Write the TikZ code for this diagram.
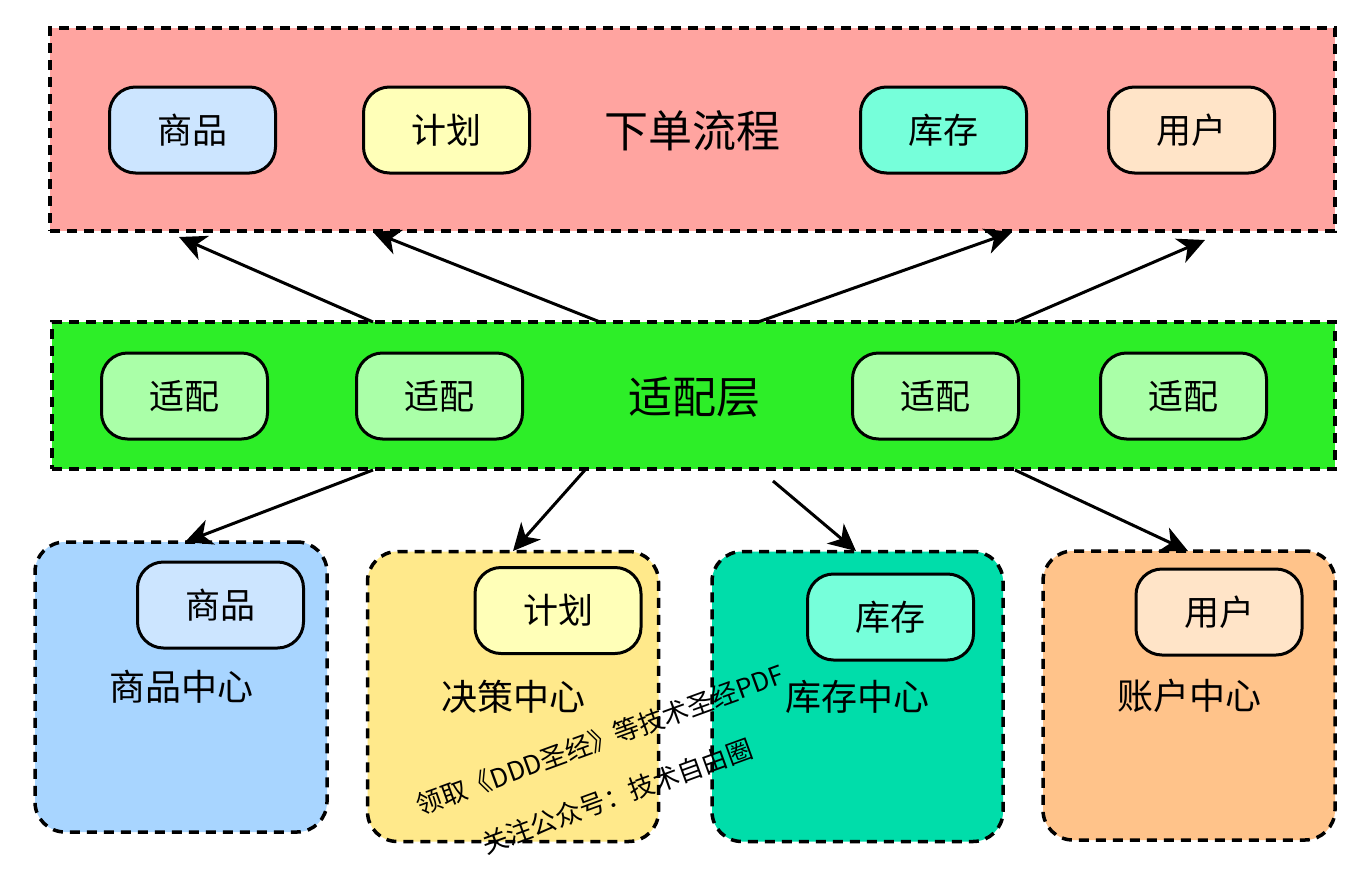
\documentclass[tikz,border=0pt]{standalone}
\usepackage{fontspec}
\setmainfont{Noto Sans CJK SC}
\usetikzlibrary{arrows.meta}
\definecolor{topfill}{HTML}{FFA4A0}
\definecolor{midfill}{HTML}{2DEE28}
\definecolor{adpfill}{HTML}{AAFFA8}
\definecolor{goodsfill}{HTML}{CCE5FF}
\definecolor{planfill}{HTML}{FFFFB8}
\definecolor{stockfill}{HTML}{76FFDA}
\definecolor{userfill}{HTML}{FFE4C8}
\definecolor{bluefill}{HTML}{A8D5FF}
\definecolor{yellowfill}{HTML}{FFE98B}
\definecolor{tealfill}{HTML}{00DDAA}
\definecolor{orangefill}{HTML}{FFC38A}
\tikzset{
  groupbox/.style={draw=black, line width=3.5pt, dash pattern=on 10pt off 7pt, rectangle, inner sep=0pt},
  centerbox/.style={groupbox, rounded corners=30pt, minimum width=291pt, minimum height=290pt,
    font=\fontsize{36}{42}\selectfont},
  tagbox/.style={draw=black, line width=3pt, rounded corners=26pt, minimum width=166pt, minimum height=86pt,
    inner sep=0pt, font=\fontsize{35}{40}\selectfont},
  titletext/.style={font=\fontsize{44}{50}\selectfont, inner sep=0pt},
  marktext/.style={font=\fontsize{26}{30}\selectfont, rotate=20, inner sep=0pt},
  arr/.style={line width=3pt, -{Stealth[length=27pt, width=26pt, inset=8pt]}}
}
\begin{document}
\begin{tikzpicture}[x=1pt,y=-1pt]
\useasboundingbox (0,0) rectangle (1371,868);

% top group
\node[groupbox, fill=topfill, minimum width=1285pt, minimum height=203pt] (order) at (692.5,129.5) {};
\node[titletext] (ordertitle) at (692.5,131) {下单流程};
\node[tagbox, fill=goodsfill] (tg) at (192.5,130) {商品};
\node[tagbox, fill=planfill] (tp) at (446.5,130) {计划};
\node[tagbox, fill=stockfill] (ts) at (943.5,130) {库存};
\node[tagbox, fill=userfill] (tu) at (1191.5,130) {用户};

% adapter group
\node[groupbox, fill=midfill, minimum width=1283pt, minimum height=147pt] (adapter) at (693.5,395.5) {};
\node[titletext] (adaptertitle) at (694.5,397) {适配层};
\node[tagbox, fill=adpfill] (m1) at (184.5,396) {适配};
\node[tagbox, fill=adpfill] (m2) at (439.5,396) {适配};
\node[tagbox, fill=adpfill] (m3) at (935.5,396) {适配};
\node[tagbox, fill=adpfill] (m4) at (1183.5,396) {适配};

% centers
\node[centerbox, fill=bluefill, minimum width=292pt] (cg) at (181,687) {商品中心};
\node[centerbox, fill=yellowfill] (cp) at (513,696.5) {决策中心};
\node[centerbox, fill=tealfill] (cs) at (857.5,696.5) {库存中心};
\node[centerbox, fill=orangefill, minimum width=292pt, minimum height=289pt] (cu) at (1189,695.5) {账户中心};

\node[tagbox, fill=goodsfill] (bg) at (220.5,605) {商品};
\node[tagbox, fill=planfill] (bp) at (558,610.5) {计划};
\node[tagbox, fill=stockfill] (bs) at (890.5,617) {库存};
\node[tagbox, fill=userfill] (bu) at (1219,612) {用户};

% arrow end points
\coordinate (u1s) at (373,322);  \coordinate (u1e) at (179,237);
\coordinate (u2s) at (600,322);  \coordinate (u2e) at (373,232);
\coordinate (u3s) at (758,322);  \coordinate (u3e) at (1012,232);
\coordinate (u4s) at (1015,322); \coordinate (u4e) at (1205,240);
\coordinate (d1s) at (373,470);  \coordinate (d1e) at (185,542);
\coordinate (d2s) at (585,470);  \coordinate (d2e) at (513,551);
\coordinate (d3s) at (773,481);  \coordinate (d3e) at (856,551);
\coordinate (d4s) at (1015,470); \coordinate (d4e) at (1188,551);

\draw[arr] (u1s) -- (u1e);
\draw[arr] (u2s) -- (u2e);
\draw[arr] (u3s) -- (u3e);
\draw[arr] (u4s) -- (u4e);
\draw[arr] (d1s) -- (d1e);
\draw[arr] (d2s) -- (d2e);
\draw[arr] (d3s) -- (d3e);
\draw[arr] (d4s) -- (d4e);

% watermark
\node[marktext] (wm1) at (600,740) {领取《DDD圣经》等技术圣经PDF};
\node[marktext] (wm2) at (617,796) {关注公众号：技术自由圈};
\end{tikzpicture}
\end{document}
